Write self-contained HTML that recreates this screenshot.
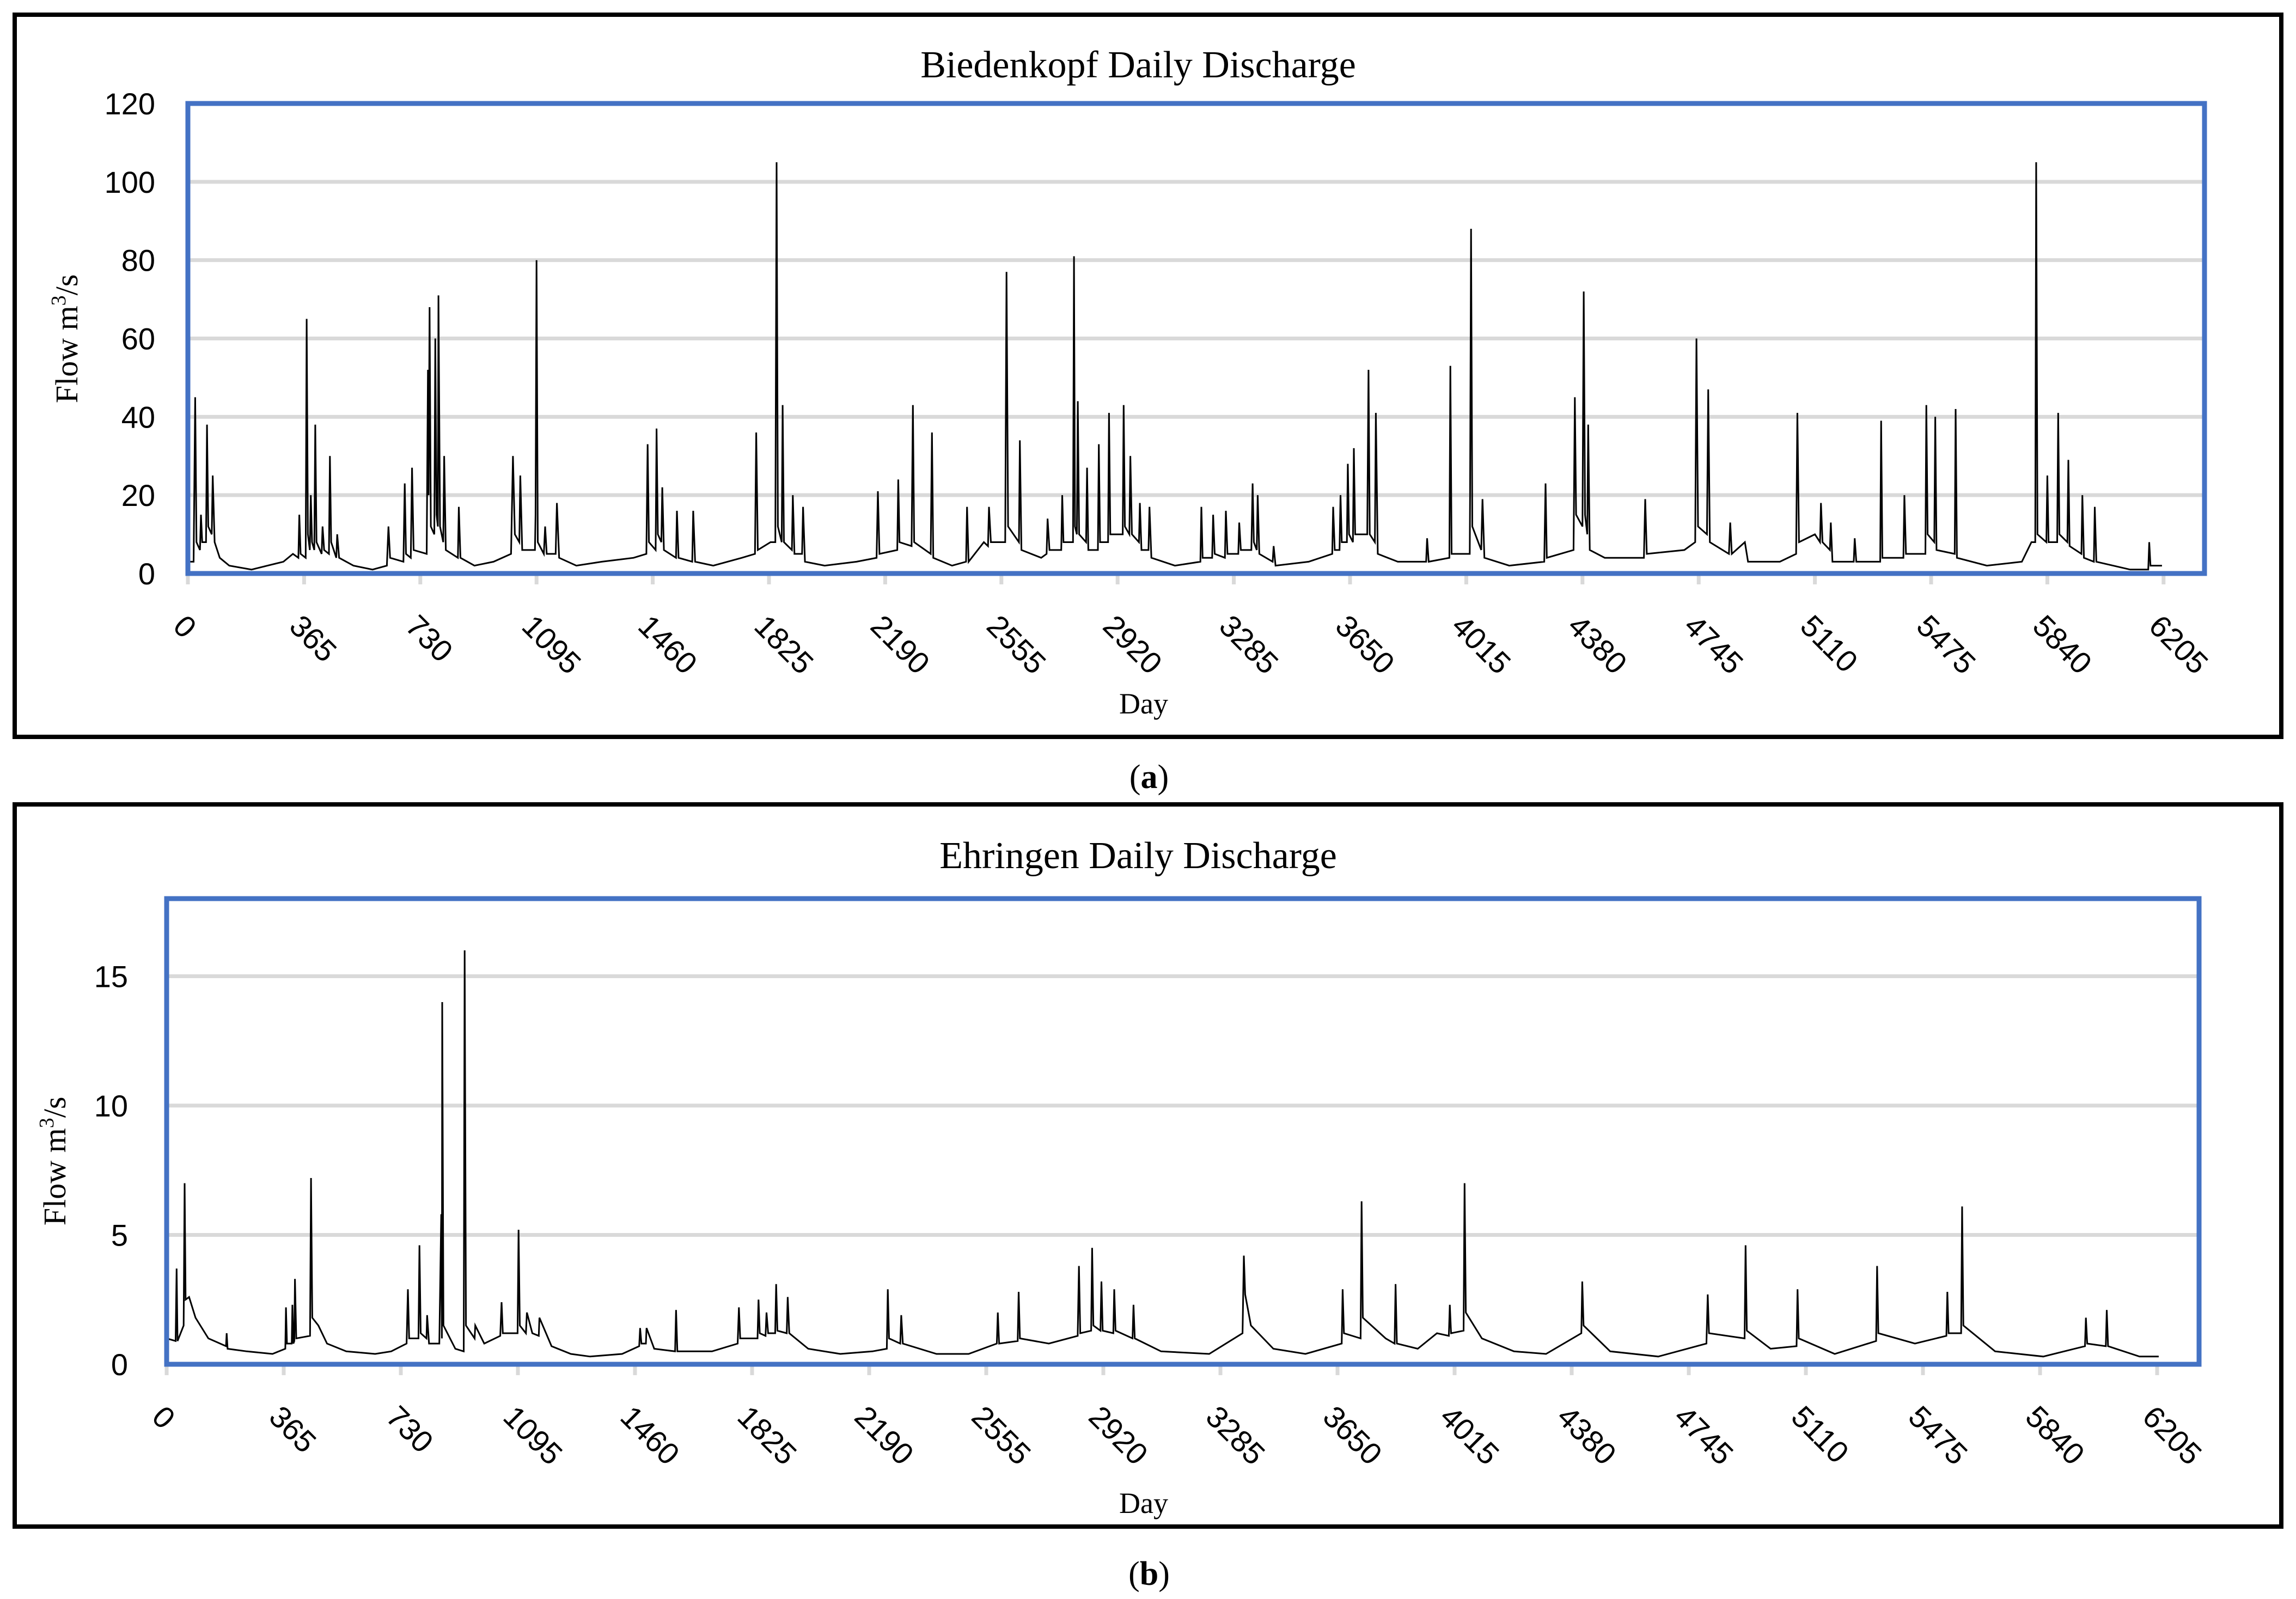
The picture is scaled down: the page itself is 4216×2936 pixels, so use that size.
<!DOCTYPE html>
<html><head><meta charset="utf-8"><style>
html,body{margin:0;padding:0;background:#fff;}
svg{display:block;}
.tick{font-family:"Liberation Sans",sans-serif;font-size:56px;fill:#000;}
.serif{font-family:"Liberation Serif",serif;fill:#000;}
</style></head><body>
<svg id="fig" width="4216" height="2936" viewBox="0 0 4216 2936" xmlns="http://www.w3.org/2000/svg">
<rect x="27" y="27" width="4162" height="1326" fill="none" stroke="#000" stroke-width="8"/>
<rect x="27" y="1477" width="4162" height="1326" fill="none" stroke="#000" stroke-width="8"/>
<text class="serif" x="2090" y="142" font-size="70" text-anchor="middle">Biedenkopf Daily Discharge</text>
<text class="serif" x="2090" y="1594" font-size="70" text-anchor="middle">Ehringen Daily Discharge</text>
<text class="serif" x="2100" y="1310" font-size="54" text-anchor="middle">Day</text>
<text class="serif" x="2100" y="2778" font-size="54" text-anchor="middle">Day</text>
<text class="serif" x="2110" y="1447" font-size="62" text-anchor="middle">(<tspan font-weight="bold">a</tspan>)</text>
<text class="serif" x="2110" y="2910" font-size="62" text-anchor="middle">(<tspan font-weight="bold">b</tspan>)</text>
<text class="serif" font-size="58" text-anchor="middle" transform="translate(142,622) rotate(-90)">Flow m<tspan font-size="38" dy="-22">3</tspan><tspan dy="22">/s</tspan></text>
<text class="serif" font-size="58" text-anchor="middle" transform="translate(120,2132) rotate(-90)">Flow m<tspan font-size="38" dy="-22">3</tspan><tspan dy="22">/s</tspan></text>
<g id="chartA"></g>
<g id="chartB"></g>
</svg>
<script>
const xTicks = [0,365,730,1095,1460,1825,2190,2555,2920,3285,3650,4015,4380,4745,5110,5475,5840,6205];
const yTicksA = [0,20,40,60,80,100,120];
const yTicksB = [0,5,10,15];
const pointsA = [[0,3],[18,3],[23,45],[27,8],[38,6],[41,15],[45,8],[57,8],[60,38],[64,12],[75,10],[78,25],[84,8],[100,4],[130,2],[200,1],[250,2],[300,3],[330,5],[347,4],[350,15],[354,5],[370,4],[373,65],[377,10],[383,6],[386,20],[390,8],[397,6],[400,38],[404,8],[420,5],[423,12],[428,6],[443,5],[446,30],[450,8],[466,4],[469,10],[475,4],[520,2],[580,1],[625,2],[630,12],[635,4],[677,3],[681,23],[685,5],[700,4],[704,27],[709,6],[750,5],[754,52],[756,20],[759,68],[763,12],[774,10],[777,60],[781,15],[785,12],[787,71],[792,12],[802,8],[805,30],[810,6],[848,4],[851,17],[856,4],[900,2],[960,3],[1015,5],[1021,30],[1027,10],[1041,8],[1044,25],[1050,6],[1090,6],[1092,15],[1095,80],[1099,8],[1118,5],[1122,12],[1127,5],[1155,5],[1159,18],[1166,4],[1220,2],[1300,3],[1400,4],[1440,5],[1444,33],[1448,8],[1469,6],[1472,37],[1476,10],[1487,8],[1490,22],[1495,6],[1533,4],[1536,16],[1541,4],[1584,3],[1587,16],[1593,3],[1650,2],[1740,4],[1781,5],[1785,36],[1790,6],[1830,8],[1845,8],[1849,105],[1853,12],[1865,8],[1868,43],[1872,8],[1897,6],[1900,20],[1905,5],[1929,5],[1932,17],[1938,3],[2000,2],[2100,3],[2163,4],[2167,21],[2172,5],[2228,6],[2231,24],[2235,8],[2273,7],[2277,43],[2281,8],[2333,5],[2337,36],[2341,4],[2400,2],[2444,3],[2447,17],[2452,3],[2500,8],[2513,7],[2516,17],[2522,8],[2567,8],[2571,77],[2576,12],[2610,8],[2613,34],[2618,6],[2680,4],[2697,5],[2700,14],[2706,6],[2743,6],[2746,20],[2750,8],[2780,8],[2783,81],[2786,12],[2792,10],[2795,44],[2799,10],[2821,8],[2824,27],[2828,6],[2858,6],[2861,33],[2865,8],[2890,8],[2893,41],[2897,10],[2936,10],[2939,43],[2943,12],[2957,10],[2960,30],[2965,10],[2987,8],[2990,18],[2995,6],[3017,6],[3020,17],[3026,4],[3100,2],[3180,3],[3183,17],[3187,4],[3217,4],[3220,15],[3225,5],[3257,4],[3260,16],[3265,5],[3299,5],[3302,13],[3307,6],[3340,6],[3344,23],[3348,8],[3357,6],[3360,20],[3365,5],[3407,3],[3410,7],[3416,2],[3520,3],[3594,5],[3597,17],[3602,6],[3617,6],[3620,20],[3624,8],[3640,8],[3643,28],[3647,10],[3659,8],[3662,32],[3666,10],[3704,10],[3708,52],[3712,10],[3728,8],[3731,41],[3737,5],[3800,3],[3889,3],[3892,9],[3897,3],[3962,4],[3965,53],[3969,5],[4026,5],[4027,20],[4030,88],[4034,12],[4062,6],[4066,19],[4072,4],[4150,2],[4260,3],[4264,23],[4268,4],[4352,6],[4356,45],[4360,15],[4380,12],[4384,72],[4388,15],[4395,10],[4398,38],[4403,6],[4450,4],[4573,4],[4577,19],[4582,5],[4700,6],[4734,8],[4738,60],[4743,12],[4771,10],[4775,47],[4780,8],[4840,5],[4844,13],[4849,5],[4890,8],[4900,3],[5000,3],[5051,5],[5055,41],[5060,8],[5110,10],[5126,8],[5129,18],[5134,8],[5157,6],[5160,13],[5165,3],[5232,3],[5235,9],[5240,3],[5315,3],[5318,39],[5322,4],[5388,4],[5391,20],[5396,5],[5457,5],[5460,43],[5464,10],[5485,8],[5488,40],[5492,6],[5549,5],[5552,42],[5556,4],[5650,2],[5760,3],[5790,8],[5802,8],[5805,105],[5809,10],[5837,8],[5840,25],[5844,8],[5871,8],[5874,41],[5878,10],[5903,8],[5906,29],[5910,7],[5947,5],[5950,20],[5955,4],[5986,3],[5989,17],[5994,3],[6100,1],[6157,1],[6160,8],[6164,2],[6200,2]];
const pointsB = [[0,1.0],[28,0.9],[31,3.7],[34,0.9],[53,1.5],[56,7.0],[59,2.5],[70,2.6],[90,1.8],[130,1.0],[185,0.7],[187,1.2],[190,0.6],[250,0.5],[330,0.4],[370,0.6],[372,2.2],[375,0.8],[390,0.8],[392,2.3],[395,0.8],[398,0.9],[400,3.3],[404,1.0],[447,1.1],[450,7.2],[454,1.8],[473,1.5],[500,0.8],[560,0.5],[650,0.4],[700,0.5],[748,0.8],[752,2.9],[756,1.0],[785,1.0],[788,4.6],[792,1.2],[810,1.0],[812,1.9],[818,0.8],[850,0.8],[856,5.8],[858,1.0],[859,14.0],[863,1.5],[900,0.6],[926,0.5],[929,16.0],[933,1.5],[960,1.0],[962,1.5],[990,0.8],[1040,1.1],[1044,2.4],[1048,1.2],[1094,1.2],[1097,5.2],[1101,1.5],[1120,1.2],[1123,2.0],[1140,1.2],[1160,1.1],[1162,1.8],[1200,0.7],[1260,0.4],[1320,0.3],[1420,0.4],[1473,0.7],[1476,1.4],[1480,0.8],[1494,0.8],[1496,1.4],[1520,0.6],[1585,0.5],[1588,2.1],[1592,0.5],[1700,0.5],[1780,0.8],[1784,2.2],[1788,1.0],[1842,1.0],[1845,2.5],[1849,1.2],[1867,1.1],[1870,2.0],[1875,1.2],[1897,1.2],[1900,3.1],[1904,1.3],[1933,1.2],[1936,2.6],[1941,1.2],[2000,0.6],[2100,0.4],[2200,0.5],[2245,0.6],[2248,2.9],[2252,1.0],[2287,0.8],[2290,1.9],[2295,0.8],[2400,0.4],[2500,0.4],[2588,0.8],[2591,2.0],[2595,0.8],[2653,0.9],[2656,2.8],[2660,1.0],[2750,0.8],[2840,1.1],[2844,3.8],[2848,1.2],[2882,1.3],[2885,4.5],[2889,1.5],[2911,1.3],[2914,3.2],[2918,1.3],[2951,1.2],[2954,2.9],[2958,1.3],[3011,1.0],[3014,2.3],[3018,1.0],[3100,0.5],[3250,0.4],[3354,1.2],[3358,4.2],[3362,2.7],[3380,1.5],[3450,0.6],[3550,0.4],[3663,0.8],[3666,2.9],[3670,1.2],[3722,1.0],[3725,6.3],[3729,1.8],[3800,1.0],[3828,0.8],[3831,3.1],[3835,0.8],[3900,0.6],[3960,1.2],[3997,1.1],[4000,2.3],[4004,1.2],[4043,1.3],[4046,7.0],[4050,2.0],[4100,1.0],[4200,0.5],[4300,0.4],[4410,1.2],[4413,3.2],[4417,1.5],[4500,0.5],[4650,0.3],[4800,0.8],[4804,2.7],[4808,1.2],[4919,1.0],[4922,4.6],[4926,1.3],[5000,0.6],[5081,0.7],[5084,2.9],[5088,1.0],[5200,0.4],[5329,0.9],[5332,3.8],[5336,1.2],[5450,0.8],[5548,1.1],[5551,2.8],[5555,1.2],[5594,1.2],[5597,6.1],[5601,1.5],[5700,0.5],[5850,0.3],[5980,0.7],[5983,1.8],[5987,0.8],[6045,0.7],[6048,2.1],[6052,0.7],[6150,0.3],[6210,0.3]];
const daysA = pointsA.map(p=>p[0]);
const flowA = pointsA.map(p=>p[1]);
const daysB = pointsB.map(p=>p[0]);
const flowB = pointsB.map(p=>p[1]);

const NS = 'http://www.w3.org/2000/svg';
function mk(parent, tag, attrs){const e=document.createElementNS(NS,tag);for(const k in attrs)e.setAttribute(k,attrs[k]);parent.appendChild(e);return e;}

function drawChart(g, cfg, days, flow, yTicks, key){
  const xs = d => cfg.x0 + d*cfg.perYear/365;
  const ys = v => cfg.y0 - (v/cfg.ymax)*(cfg.y0-cfg.top);
  yTicks.forEach(t=>{
    if(t>0){
      const gl = mk(g,'line',{x1:cfg.x0,x2:cfg.right,y1:ys(t),y2:ys(t),stroke:'#d9d9d9','stroke-width':7});
      
      
    }
    const tl = mk(g,'text',{x:cfg.labelRight,y:ys(t)+20,'text-anchor':'end',class:'tick'});
    tl.textContent = t;
    
    
  });
  const ax = mk(g,'line',{x1:cfg.x0,x2:cfg.right,y1:cfg.y0,y2:cfg.y0,stroke:'#d9d9d9','stroke-width':7});
  
  
  xTicks.forEach(t=>{
    const x = xs(t);
    const tk = mk(g,'line',{x1:x,x2:x,y1:cfg.y0,y2:cfg.y0+20,stroke:'#d9d9d9','stroke-width':7});
    
    
    const tl = mk(g,'text',{class:'tick',transform:'translate('+(x-30)+','+(cfg.y0+cfg.labelDy)+') rotate(45)'});
    tl.textContent = t;
    
    
  });
  let d='';
  for(let i=0;i<days.length;i++){d+=(i?'L':'M')+xs(days[i]).toFixed(1)+' '+ys(flow[i]).toFixed(1);}
  const p = mk(g,'path',{d:d,fill:'none',stroke:'#000','stroke-width':3,'stroke-linejoin':'miter'});
  
  
  const fr = mk(g,'rect',{x:cfg.x0,y:cfg.top,width:cfg.right-cfg.x0,height:cfg.y0-cfg.top,fill:'none',stroke:'#4472c4','stroke-width':9});
  
  
}
drawChart(document.getElementById('chartA'),{x0:345,perYear:213.4,right:4048,top:190,y0:1053,ymax:120,labelRight:285,labelDy:100},daysA,flowA,yTicksA,'chart-a');
drawChart(document.getElementById('chartB'),{x0:306,perYear:215,right:4038,top:1650,y0:2505,ymax:18,labelRight:235,labelDy:100},daysB,flowB,yTicksB,'chart-b');
</script>
</body></html>
